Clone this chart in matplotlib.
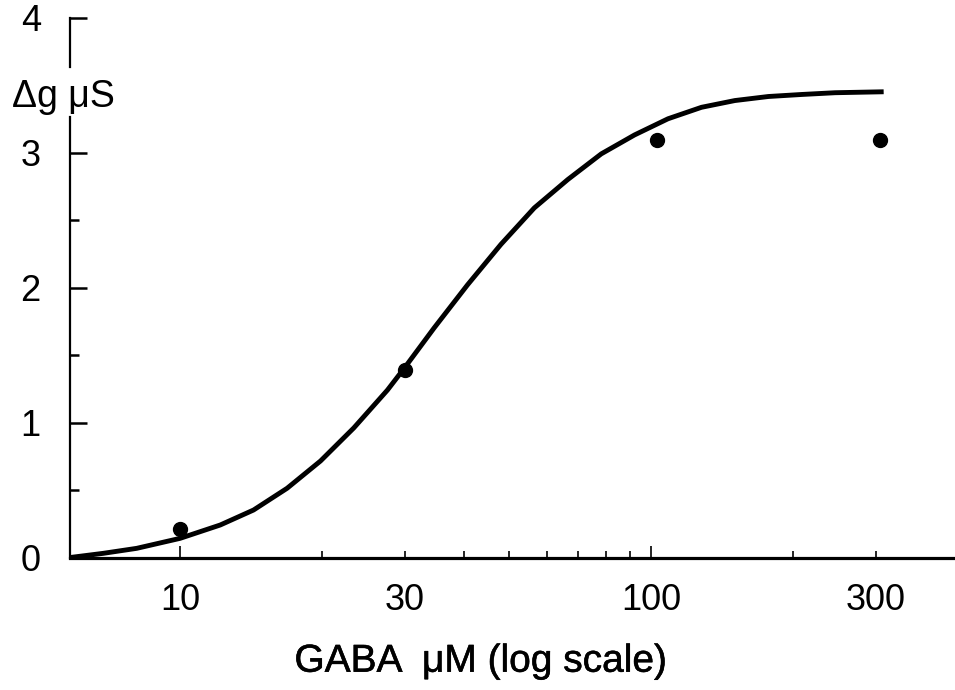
import matplotlib
matplotlib.use("Agg")
import matplotlib.pyplot as plt
import matplotlib.ticker as ticker
import matplotlib.patheffects as pe

plt.rcParams['font.family'] = ['Liberation Sans', 'DejaVu Sans']

# measured points (GABA uM, delta g uS)
gaba_pts = [10, 30, 103, 305]
dg_pts = [0.21, 1.39, 3.09, 3.09]

# fitted curve
curve_x = [5.84, 6.87, 8.09, 10.0, 12.17, 14.32, 16.87, 19.86, 23.37, 27.54,
           29.87, 34.59, 40.74, 47.97, 56.46, 66.5, 78.3, 92.1, 108.5, 127.8,
           150.4, 177.2, 208.5, 245.5, 311.2]
curve_y = [0.0, 0.031, 0.068, 0.142, 0.241, 0.352, 0.513, 0.715, 0.96, 1.24,
           1.40, 1.70, 2.02, 2.32, 2.59, 2.80, 2.99, 3.13, 3.25, 3.335,
           3.385, 3.415, 3.43, 3.443, 3.450]

xtick_major = [10, 100]
xtick_minor = [20, 30, 40, 50, 60, 70, 80, 90, 200, 300]
xtick_labels = [10, 30, 100, 300]

fig = plt.figure(figsize=(9.55, 6.9), dpi=100)
ax = fig.add_axes([0.0733, 0.192, 0.9267, 0.7826])

ax.plot(curve_x, curve_y, color='black', lw=3.5, solid_capstyle='butt',
        solid_joinstyle='round')
ax.plot(gaba_pts, dg_pts, 'o', color='black', ms=10)

ax.set_xscale('log')
ax.set_xlim(5.84, 441)
ax.set_ylim(0, 4)

for s in ['top', 'right', 'left']:
    ax.spines[s].set_visible(False)
ax.spines['bottom'].set_linewidth(2.3)

# left axis, broken where the unit label sits
tr = ax.get_yaxis_transform()
ax.plot([0, 0], [0, 3.26], color='black', lw=1.6, transform=tr, clip_on=False)
ax.plot([0, 0], [3.63, 4.0], color='black', lw=1.6, transform=tr, clip_on=False)

# x ticks
ax.set_xticks(xtick_major)
ax.set_xticks(xtick_minor, minor=True)
ax.xaxis.set_major_formatter(ticker.NullFormatter())
ax.xaxis.set_minor_formatter(ticker.NullFormatter())
ax.tick_params(axis='x', which='major', direction='in', length=9, width=1.2)
ax.tick_params(axis='x', which='minor', direction='in', length=5, width=1.2)
for v in xtick_labels:
    ax.text(v, -0.322, str(v), ha='center', va='center', fontsize=26,
            clip_on=False)

# y ticks
ax.set_yticks([0, 1, 2, 3, 4])
ax.set_yticks([0.5, 1.5, 2.5], minor=True)
ax.set_yticklabels(['0', '1', '2', '3', '4'], fontsize=26)
ax.tick_params(axis='y', which='major', direction='in', length=12, width=1.8, pad=21)
ax.tick_params(axis='y', which='minor', direction='in', length=6.5, width=1.8)
ax.yaxis.get_major_ticks()[0].tick1line.set_visible(False)

ax.text(-0.0655, 3.41, '\u0394g \u03bcS', fontsize=27, ha='left', va='center',
        transform=tr, clip_on=False)

fig.text(0.503, 0.041, 'GABA  \u03bcM (log scale)', fontsize=28, ha='center',
         va='center',
         path_effects=[pe.withStroke(linewidth=0.4, foreground='black')])

fig.savefig('out.png', dpi=100)
